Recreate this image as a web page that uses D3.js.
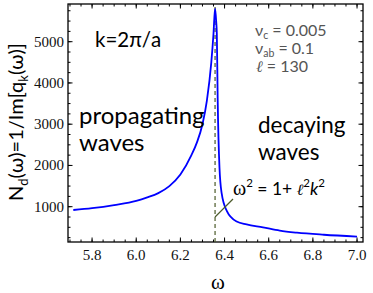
<!DOCTYPE html>
<html>
<head>
<meta charset="utf-8">
<script src="https://cdn.jsdelivr.net/npm/d3@7"></script>
<style>
    body { margin: 0; background: #fff; }
    svg text { font-family: Lato, "Open Sans", sans-serif; }
    .tick-label { font-family: "Liberation Serif", "DejaVu Serif", serif; font-size: 15px; fill: #111; }
</style>
</head>
<body>
<svg class="svg-canvas" width="373" height="293"></svg>
<script>
    //Frequencies
    var omega = [5.715, 5.8, 5.9, 6.0, 6.05, 6.1, 6.15, 6.2, 6.25, 6.275, 6.3, 6.32, 6.34, 6.35, 6.357,
        6.362, 6.365, 6.369, 6.377, 6.387, 6.41, 6.455, 6.5, 6.574, 6.65, 6.728, 6.85, 7.0];
    //N_d values at those frequencies
    var nd = [920, 965, 1040, 1140, 1225, 1330, 1500, 1780, 2250, 2560, 3000, 3570, 4500, 5200, 5800,
        5500, 5190, 3570, 1950, 1320, 900, 640, 570, 500, 420, 370, 320, 275];

    //Tick values
    var xTicks = [5.8, 6.0, 6.2, 6.4, 6.6, 6.8, 7.0];
    var yTicks = [1000, 2000, 3000, 4000, 5000];

    //Resonance position (dashed line)
    var omegaRes = 6.357;

    (function(){
        //Frame of the plot
        var fL = 68, fR = 363, fT = 4, fB = 242;

        var svg = d3.select('.svg-canvas');

        var x = d3.scaleLinear().domain([5.691, 7.027]).range([fL, fR]);
        var y = d3.scaleLinear().domain([144, 5914]).range([fB, fT]);

        //Minor ticks
        var xMinor = d3.range(5.7, 7.03, 0.05);
        var yMinor = d3.range(250, 5914, 250);

        //Draws a set of inward ticks along one side
        var drawTicks = function(vals, scale, side, len){
            vals.forEach(function(v){
                var p = scale(v);
                var l = svg.append('line').attr('stroke', '#000').attr('stroke-width', 1);
                if (side === 'bottom') l.attr('x1', p).attr('x2', p).attr('y1', fB).attr('y2', fB - len);
                if (side === 'top') l.attr('x1', p).attr('x2', p).attr('y1', fT).attr('y2', fT + len);
                if (side === 'left') l.attr('y1', p).attr('y2', p).attr('x1', fL).attr('x2', fL + len);
                if (side === 'right') l.attr('y1', p).attr('y2', p).attr('x1', fR).attr('x2', fR - len);
            });
        };

        ['bottom', 'top'].forEach(function(s){
            drawTicks(xMinor, x, s, 2.5);
            drawTicks(xTicks, x, s, 4.5);
        });
        ['left', 'right'].forEach(function(s){
            drawTicks(yMinor, y, s, 2.5);
            drawTicks(yTicks, y, s, 4.5);
        });

        //Frame
        svg.append('rect')
            .attr('x', fL).attr('y', fT)
            .attr('width', fR - fL).attr('height', fB - fT)
            .attr('fill', 'none').attr('stroke', '#000').attr('stroke-width', 1.3);

        //Tick labels
        svg.selectAll('.xl').data(xTicks).enter().append('text')
            .attr('class', 'tick-label')
            .attr('x', function(d){ return x(d); })
            .attr('y', 260)
            .attr('text-anchor', 'middle')
            .text(function(d){ return d.toFixed(1); });

        svg.selectAll('.yl').data(yTicks).enter().append('text')
            .attr('class', 'tick-label')
            .attr('x', 64)
            .attr('y', function(d){ return y(d) + 5; })
            .attr('text-anchor', 'end')
            .text(function(d){ return d; });

        //Dashed resonance line
        svg.append('line')
            .attr('x1', x(omegaRes)).attr('x2', x(omegaRes))
            .attr('y1', fB).attr('y2', fT)
            .attr('stroke', '#4b5a2a').attr('stroke-width', 1.2)
            .attr('stroke-dasharray', '4,3');

        //The curve
        var line = d3.line()
            .x(function(d, i){ return x(omega[i]); })
            .y(function(d){ return y(d); })
            .curve(d3.curveMonotoneX);

        svg.append('path')
            .datum(nd)
            .attr('d', line)
            .attr('fill', 'none')
            .attr('stroke', '#0000ff')
            .attr('stroke-width', 1.8);

        //Pointer from the dispersion text to the resonance line
        svg.append('line')
            .attr('x1', x(omegaRes)).attr('y1', 217)
            .attr('x2', 233).attr('y2', 199)
            .attr('stroke', '#4b5a2a').attr('stroke-width', 1.2);

        //Axis titles
        svg.append('text')
            .attr('x', 218).attr('y', 289)
            .attr('text-anchor', 'middle')
            .style('font-family', '"Liberation Serif", serif')
            .style('font-size', '21px')
            .text('ω');

        var yl = svg.append('text')
            .attr('transform', 'translate(23,122) rotate(-90)')
            .attr('text-anchor', 'middle')
            .style('font-size', '20px');
        yl.append('tspan').text('N');
        yl.append('tspan').attr('dy', 5).style('font-size', '13px').text('d');
        yl.append('tspan').attr('dy', -5).text('(ω)=1/Im[q');
        yl.append('tspan').attr('dy', 5).style('font-size', '13px').text('k');
        yl.append('tspan').attr('dy', -5).text('(ω)]');

        //Annotations
        svg.append('text').attr('x', 95).attr('y', 47).style('font-size', '20.5px').text('k=2π/a');
        svg.append('text').attr('x', 79).attr('y', 124).style('font-size', '24px').text('propagating');
        svg.append('text').attr('x', 79).attr('y', 151).style('font-size', '24px').text('waves');
        svg.append('text').attr('x', 258).attr('y', 133).style('font-size', '22.5px').text('decaying');
        svg.append('text').attr('x', 258).attr('y', 160).style('font-size', '22.5px').text('waves');

        //Parameter block
        var params = [['c', ' = 0.005', 36], ['ab', ' = 0.1', 54]];
        params.forEach(function(p){
            var t = svg.append('text').attr('x', 255).attr('y', p[2])
                .style('font-size', '16px').style('fill', '#555');
            t.append('tspan').text('ν');
            t.append('tspan').attr('dy', 2.5).style('font-size', '10.5px').text(p[0]);
            t.append('tspan').attr('dy', -2.5).text(p[1]);
        });
        var lt = svg.append('text').attr('x', 256).attr('y', 72)
            .style('font-size', '16px').style('fill', '#555');
        lt.append('tspan').style('font-style', 'italic').style('font-family', '"DejaVu Serif", serif').text('ℓ');
        lt.append('tspan').text(' = 130');

        //Dispersion relation
        var dr = svg.append('text').attr('x', 233).attr('y', 195).style('font-size', '17.5px');
        dr.append('tspan').style('font-family', '"Liberation Serif", serif').style('font-size', '20px').text('ω');
        dr.append('tspan').attr('dy', -8).style('font-size', '11.5px').text('2');
        dr.append('tspan').attr('dy', 8).text(' = 1+ ');
        dr.append('tspan').style('font-style', 'italic').style('font-family', '"DejaVu Serif", serif').style('font-size', '15.5px').text('ℓ');
        dr.append('tspan').attr('dy', -8).style('font-size', '11.5px').text('2');
        dr.append('tspan').attr('dy', 8).style('font-style', 'italic').text('k');
        dr.append('tspan').attr('dy', -8).style('font-size', '11.5px').text('2');
    })();
</script>
</body>
</html>
